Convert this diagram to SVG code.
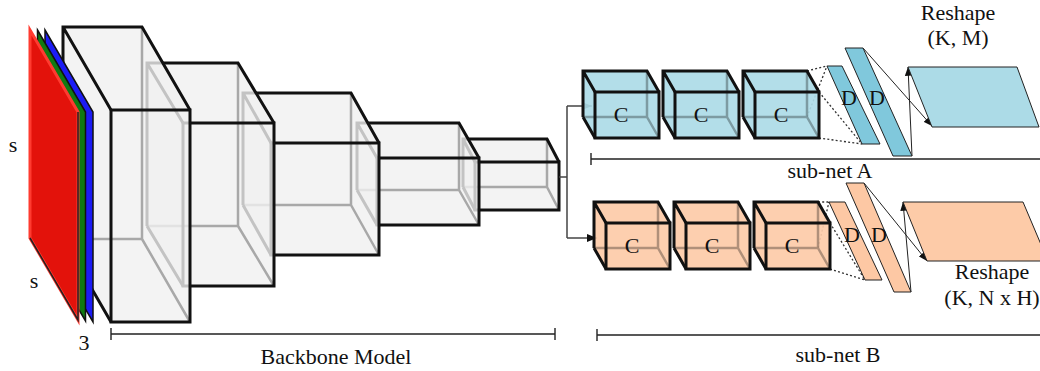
<svg xmlns="http://www.w3.org/2000/svg" xmlns:xlink="http://www.w3.org/1999/xlink" width="1040" height="371" viewBox="0 0 1040 371">
  <style>
    text { font-family: "Liberation Serif", "Times New Roman", serif; font-size: 22px; fill: #111; }
    .mid { text-anchor: middle; }
    .sil { fill: #f0f0f0; fill-opacity: 0.8; stroke: none; }
    .hid { fill: none; stroke: #a8a8a8; stroke-width: 2.5; }
    .vis { fill: none; stroke: #111; stroke-width: 3; stroke-linejoin: miter; }
    .chid { fill: none; stroke: #000; stroke-opacity: 0.3; stroke-width: 2.5; }
    .blue { color: #acdbe7; }
    .orange { color: #fdcba8; }
    .dense { stroke: #222; stroke-width: 1; }
    .dot { fill: none; stroke: #333; stroke-width: 1.3; stroke-dasharray: 2 2.2; }
    .thin { fill: none; stroke: #222; stroke-width: 1; }
    .wire { fill: none; stroke: #444; stroke-width: 1.5; }
    .scale { fill: none; stroke: #222; stroke-width: 1.4; }
  </style>
  <defs>
    <marker id="head" viewBox="0 0 10 8" refX="10" refY="4" markerWidth="10" markerHeight="8" markerUnits="userSpaceOnUse" orient="auto">
      <path d="M0,0 L10,4 L0,8 Z" fill="#111"/>
    </marker>
    <marker id="headS" viewBox="0 0 10 8" refX="10" refY="4" markerWidth="9" markerHeight="7" markerUnits="userSpaceOnUse" orient="auto">
      <path d="M0,0 L10,4 L0,8 Z" fill="#111"/>
    </marker>
    <!-- small convolution cube, back face at origin -->
    <g id="cube">
      <polygon points="0,0 64,0 76,21 76,67 12,67 0,46" fill="currentColor" fill-opacity="0.92"/>
      <path class="chid" d="M64,0 V46 H0 M64,46 L76,67"/>
      <rect x="12" y="21" width="64" height="46" fill="none" stroke="#111" stroke-width="3"/>
      <path fill="none" stroke="#111" stroke-width="3" d="M0,46 V0 H64 L76,21 M0,0 L12,21 M0,46 L12,67"/>
    </g>
  </defs>

  <!-- backbone feature maps, drawn from smallest to largest -->
  <g id="backbone-5">
    <polygon class="sil" points="463,139 547,139 559,162 559,210 475,210 463,187"/>
    <path class="hid" d="M547,139 V187 H463 M547,187 L559,210"/>
    <rect class="vis" x="475" y="162" width="84" height="48"/>
    <path class="vis" d="M463,187 V139 H547 L559,162 M463,139 L475,162 M463,187 L475,210"/>
  </g>
  <g id="backbone-4">
    <polygon class="sil" points="357,123 459,123 479,158 479,225 377,225 357,190"/>
    <path class="hid" d="M459,123 V190 H357 M459,190 L479,225"/>
    <rect class="vis" x="377" y="158" width="102" height="67"/>
    <path class="vis" d="M357,190 V123 H459 L479,158 M357,123 L377,158 M357,190 L377,225"/>
  </g>
  <g id="backbone-3">
    <polygon class="sil" points="243,93 351,93 379,143 379,255 271,255 243,205"/>
    <path class="hid" d="M351,93 V205 H243 M351,205 L379,255"/>
    <rect class="vis" x="271" y="143" width="108" height="112"/>
    <path class="vis" d="M243,205 V93 H351 L379,143 M243,93 L271,143 M243,205 L271,255"/>
  </g>
  <g id="backbone-2">
    <polygon class="sil" points="147,63 238,63 274,123 274,286 183,286 147,226"/>
    <path class="hid" d="M238,63 V226 H147 M238,226 L274,286"/>
    <rect class="vis" x="183" y="123" width="91" height="163"/>
    <path class="vis" d="M147,226 V63 H238 L274,123 M147,63 L183,123 M147,226 L183,286"/>
  </g>
  <g id="backbone-1">
    <polygon class="sil" points="63,27 142,27 190,110 190,322 111,322 63,239"/>
    <path class="hid" d="M142,27 V239 H63 M142,239 L190,322"/>
    <rect class="vis" x="111" y="110" width="79" height="212"/>
    <path class="vis" d="M63,239 V27 H142 L190,110 M63,27 L111,110 M63,239 L111,322"/>
  </g>

  <!-- input image: three colour channels, in front of the first block -->
  <g id="input">
    <polygon points="45,30 93,112 93,322 45,240" fill="#1c1cf5" stroke="#111" stroke-width="1.5"/>
    <polygon points="37.5,30 85.5,112 85.5,321 37.5,239" fill="#0f7a12" stroke="#111" stroke-width="1.5"/>
    <polygon points="30,30 78,112 78,320 30,238" fill="#e3120b" stroke="#ff3b30" stroke-width="3"/>
    <path d="M78,112 V320 L30,238" fill="none" stroke="#222" stroke-width="1.5"/>
    <text x="13" y="152" class="mid">s</text>
    <text x="34" y="288" class="mid">s</text>
    <text x="84" y="350" class="mid">3</text>
  </g>

  <!-- connectors -->
  <g id="connectors">
    <path class="wire" d="M559,177 H567 M567,106 V238"/>
    <path class="wire" d="M567,106 H592" marker-end="url(#head)"/>
    <path class="wire" d="M567,238 H597" marker-end="url(#head)"/>
    <!-- projections from last conv cube to first dense layer -->
    <path class="dot" d="M807,71 L827,66 M807,117 L827,66 M819,92 L862,144 M819,138 L862,144"/>
    <path class="dot" d="M818,202 L829,202 M818,248 L829,202 M830,223 L865,280 M830,269 L865,280"/>
    <!-- reshape arrows -->
    <path class="thin" d="M863,48 L932,126" marker-end="url(#headS)"/>
    <path class="thin" d="M912,156 L908,67" marker-end="url(#headS)"/>
    <path class="thin" d="M864,183 L927,261" marker-end="url(#headS)"/>
    <path class="thin" d="M911,292 L903,202" marker-end="url(#headS)"/>
  </g>

  <!-- sub-net A -->
  <g id="subnetA-conv1" class="blue">
    <use xlink:href="#cube" x="583" y="71"/>
    <text x="621" y="122" class="mid">C</text>
  </g>
  <g id="subnetA-conv2" class="blue">
    <use xlink:href="#cube" x="663" y="71"/>
    <text x="701" y="122" class="mid">C</text>
  </g>
  <g id="subnetA-conv3" class="blue">
    <use xlink:href="#cube" x="743" y="71"/>
    <text x="781" y="122" class="mid">C</text>
  </g>
  <g id="subnetA-dense1">
    <polygon class="dense" points="827,66 842,66 880,144 862,144" fill="#80c8dc"/>
    <text x="849" y="105" class="mid">D</text>
  </g>
  <g id="subnetA-dense2">
    <polygon class="dense" points="845,48 863,48 912,156 893,156" fill="#80c8dc"/>
    <text x="877" y="105" class="mid">D</text>
  </g>
  <g id="subnetA-reshape">
    <polygon class="dense" points="908,67 1017,67 1039,127 932,127" fill="#acdbe7"/>
    <text x="958" y="20" class="mid">Reshape</text>
    <text x="958" y="45" class="mid">(K, M)</text>
  </g>

  <!-- sub-net B -->
  <g id="subnetB-conv1" class="orange">
    <use xlink:href="#cube" x="594" y="202"/>
    <text x="632" y="253" class="mid">C</text>
  </g>
  <g id="subnetB-conv2" class="orange">
    <use xlink:href="#cube" x="674" y="202"/>
    <text x="712" y="253" class="mid">C</text>
  </g>
  <g id="subnetB-conv3" class="orange">
    <use xlink:href="#cube" x="754" y="202"/>
    <text x="792" y="253" class="mid">C</text>
  </g>
  <g id="subnetB-dense1">
    <polygon class="dense" points="829,202 845,202 882,280 865,280" fill="#fdc8a4"/>
    <text x="852" y="242" class="mid">D</text>
  </g>
  <g id="subnetB-dense2">
    <polygon class="dense" points="846,183 864,183 911,292 894,292" fill="#fdc8a4"/>
    <text x="879" y="242" class="mid">D</text>
  </g>
  <g id="subnetB-reshape">
    <polygon class="dense" points="903,202 1023,202 1048,261 927,261" fill="#fdcba8"/>
    <text x="992" y="279" class="mid">Reshape</text>
    <text x="992" y="305" class="mid">(K, N x H)</text>
  </g>

  <!-- extent brackets -->
  <g id="brackets">
    <path class="scale" d="M111,334 H555 M111,328 V340 M555,328 V340"/>
    <text x="336" y="364" class="mid">Backbone Model</text>
    <path class="scale" d="M591,159 H1040 M591,153 V165"/>
    <text x="830" y="178" class="mid">sub-net A</text>
    <path class="scale" d="M597,335 H1040 M597,329 V341"/>
    <text x="838" y="362" class="mid">sub-net B</text>
  </g>
</svg>
